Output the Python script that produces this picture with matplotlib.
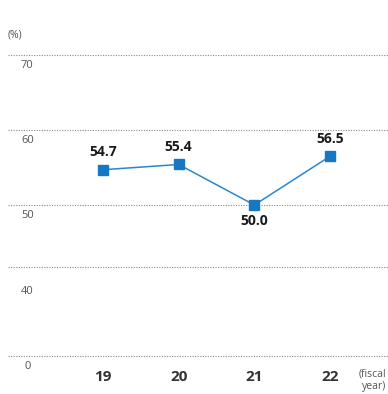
import matplotlib
matplotlib.use("Agg")
import matplotlib.pyplot as plt

years = ["19", "20", "21", "22"]
values = [54.7, 55.4, 50.0, 56.5]
ytick_labels = ["70", "60", "50", "40", "0"]

# layout (in data units of the y axis; lower part of the axis is compressed)
grid_y = [70, 60, 50, 41.7, 29.9]
label_y = [68.55, 58.55, 48.55, 38.4, 28.4]

plt.rcParams['font.family'] = ['Open Sans', 'DejaVu Sans']

fig = plt.figure(figsize=(3.88, 3.94), dpi=100)
ax = fig.add_axes([0, 0, 1, 1])
ax.set_xlim(-1.36, 3.765)
ax.set_ylim(24.8, 77.33)
ax.axis("off")

x = list(range(len(years)))

for gy in grid_y:
    ax.plot([-1.255, 3.765], [gy, gy], color="#8a8a8a", lw=0.8,
            linestyle=(0, (1, 1.3)), zorder=1)

for lab, ly in zip(ytick_labels, label_y):
    ax.text(-1.0, ly, lab, ha="center", va="center", fontsize=8, color="#555555")

ax.text(-1.26, 72.7, "(%)", ha="left", va="center", fontsize=7.5, color="#555555")

ax.plot(x, values, color="#2a86cf", lw=1.1, marker="s", markersize=6.5,
        markerfacecolor="#1777c2", markeredgecolor="#1777c2", zorder=3)

for xi, v in zip(x, values):
    if v == min(values):
        ax.text(xi, v - 2.15, f"{v:.1f}", ha="center", va="center",
                fontsize=10, fontweight="bold", color="#1a1a1a")
    else:
        ax.text(xi, v + 2.35, f"{v:.1f}", ha="center", va="center",
                fontsize=10, fontweight="bold", color="#1a1a1a")

for xi, yr in zip(x, years):
    ax.text(xi, 27.0, yr, ha="center", va="center", fontsize=11,
            fontweight="bold", color="#333333")

ax.text(3.74, 27.4, "(fiscal", ha="right", va="center", fontsize=7.5, color="#555555")
ax.text(3.74, 25.8, "year)", ha="right", va="center", fontsize=7.5, color="#555555")

fig.savefig("out.png", dpi=100)
